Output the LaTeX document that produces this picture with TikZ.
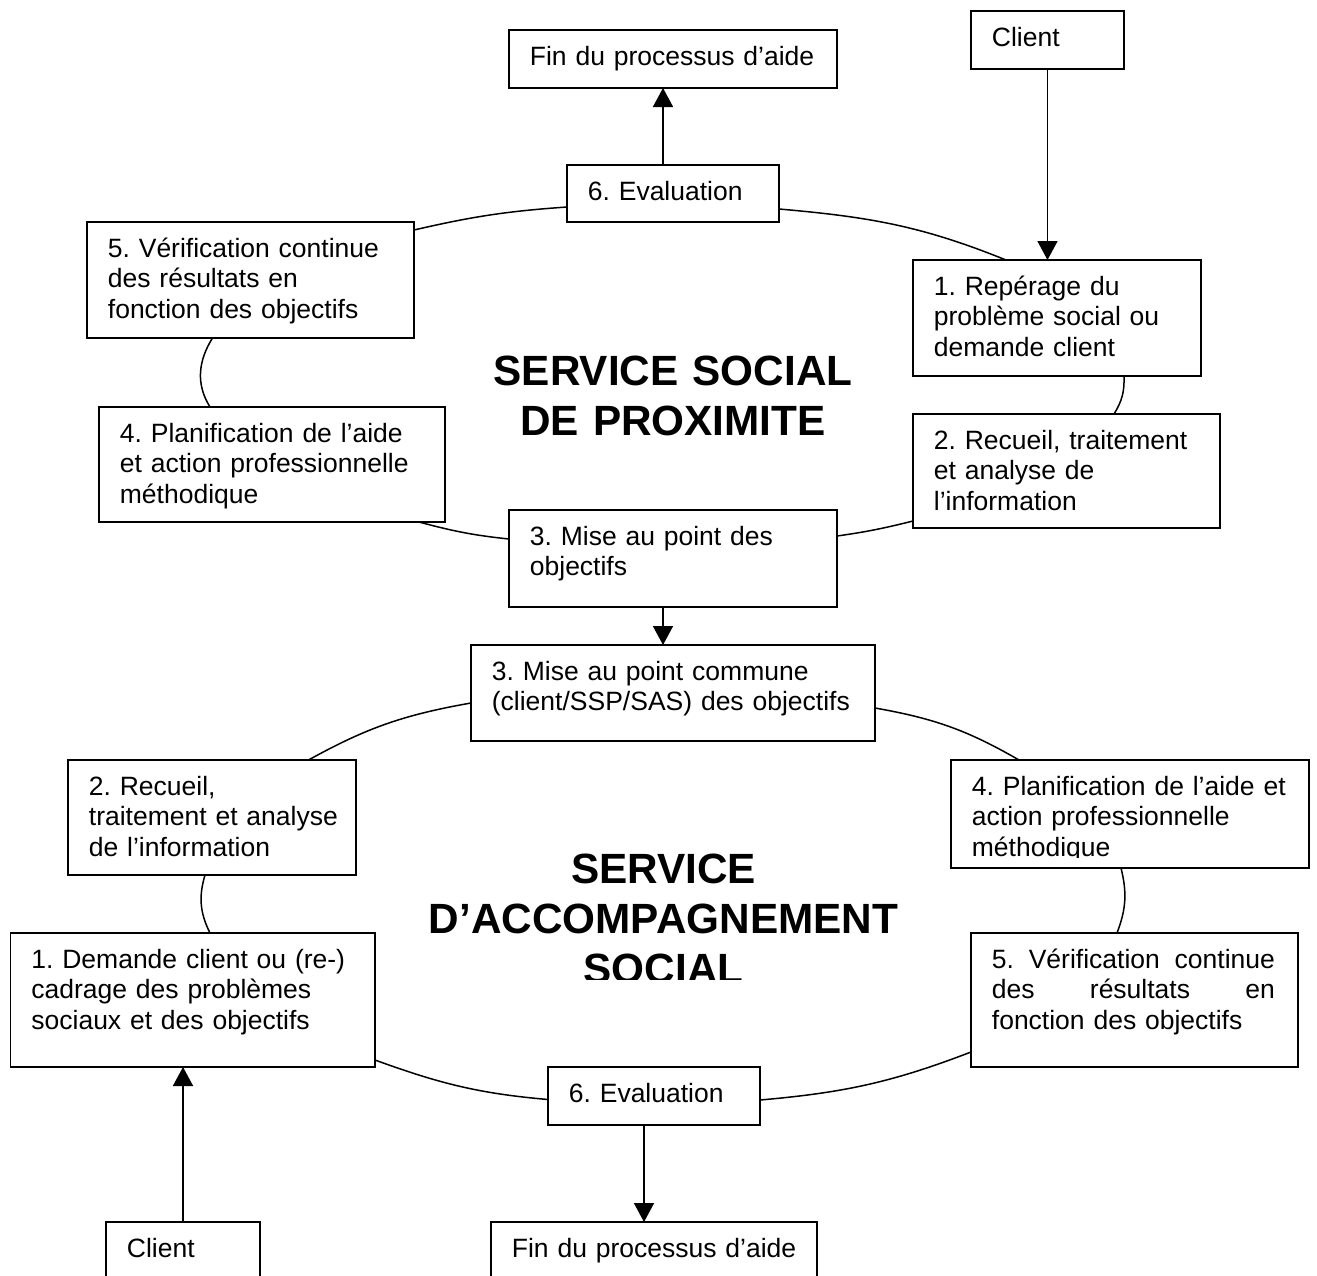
\documentclass[tikz,border=0pt]{standalone}
\usepackage{fontspec}
\setmainfont{Liberation Sans}
\usetikzlibrary{arrows.meta,calc}
\frenchspacing

% one stage of a cycle: a framed box and its text, set at the box's top left
\newcommand\stagebox[6]{%
  \node[stage, minimum width=#4, minimum height=#5] (#1) at (#2,-#3) {};
  \node[stagetext] (#1-t) at ($(#1.north west)+(20.7,-35)$) {#6};}
% a line spread out to a given width
\newcommand\spreadline[2]{\leavevmode\hbox to #1{#2}}

\begin{document}
\begin{tikzpicture}[x=1pt,y=1pt,
  stage/.style={draw, line width=1.8pt, anchor=north west, inner sep=0pt, outer sep=0pt},
  stagetext/.style={anchor=base west, inner sep=0pt, text width=420pt, align=left,
    font=\fontsize{26.5pt}{30.5pt}\selectfont},
  title/.style={anchor=base, inner sep=0pt, text width=700pt, align=center,
    font=\fontsize{42.3pt}{50pt}\selectfont\bfseries},
  link/.style={line width=1.5pt},
  arr/.style={line width=1.6pt, -{Triangle[width=20pt,length=19pt]}}]

\useasboundingbox (0,0) rectangle (1317,-1275);
\fill[white] (0,0) rectangle (1317,-1275);
\clip (0,0) rectangle (1317,-1275);

% ---------- Service social de proximité ----------
\stagebox{fint}{509}{30}{328}{58}{Fin du processus d’aide}
\stagebox{clientt}{971}{11}{153}{58}{Client}
\stagebox{evalt}{567}{165}{212}{57}{6. Evaluation}
\stagebox{b5t}{87}{222}{327}{116}{5. Vérification continue\\des résultats en\\fonction des objectifs}
\stagebox{b1t}{913}{260}{288}{116}{1. Repérage du\\problème social ou\\demande client}
\stagebox{b4t}{99}{407}{346}{115}{4. Planification de l’aide\\et action professionnelle\\méthodique}
\stagebox{b2t}{913}{414}{307}{114}{2. Recueil, traitement\\et analyse de\\l’information}
\stagebox{b3t}{509}{510}{328}{97}{3. Mise au point des\\objectifs}

\node[title] (ttop) at (673,-385.7) {SERVICE SOCIAL\\DE PROXIMITE};

\draw[link] ($(evalt.north west)+(0,-42)$) to[out=184,in=13] ($(b5t.north east)+(0,-8)$);
\draw[link] ($(evalt.north east)+(0,-44)$) to[out=-5,in=158] ($(b1t.north west)+(93,0)$);
\draw[link] ($(b5t.south west)+(125.5,0)$) to[out=238,in=122] ($(b4t.north west)+(111,0)$);
\draw[link] ($(b4t.south west)+(320,0)$) to[out=-15,in=174] ($(b3t.north west)+(0,-29)$);
\draw[link] ($(b3t.north east)+(0,-26)$) to[out=8,in=194] ($(b2t.north west)+(0,-107)$);
\draw[link] ($(b1t.south west)+(211,0)$) to[out=272,in=58] ($(b2t.north west)+(201,0)$);

\draw[arr] ($(evalt.north)+(-10,0)$) -- ($(fint.south)+(-10,0)$);
\draw[arr] (clientt.south) -- (clientt.south |- b1t.north);

% ---------- Service d'accompagnement social ----------
\stagebox{comm}{471}{645}{404}{96}{3. Mise au point commune\\(client/SSP/SAS) des objectifs}
\stagebox{b2b}{68}{760}{288}{115}{2. Recueil,\\traitement et analyse\\de l’information}
\stagebox{b1b}{10.5}{933}{364.5}{134}{1. Demande client ou (re-)\\cadrage des problèmes\\sociaux et des objectifs}
\stagebox{b5b}{971}{933}{327}{134}{\spreadline{283pt}{5.\hfill Vérification\hfill continue}\\
  \spreadline{283pt}{des\hfill résultats\hfill en}\\fonction des objectifs}
\stagebox{evalb}{548}{1067}{212}{58}{6. Evaluation}
\stagebox{clientb}{106}{1222}{154}{80}{Client}
\stagebox{finb}{491}{1222}{326}{80}{Fin du processus d’aide}

\draw[arr] ($(b3t.south)+(-10,0)$) -- ($(comm.north)+(-10,0)$);

% box whose last line is cut off at the bottom
\node[stage, minimum width=358, minimum height=108] (b4b) at (951,-760) {};
\begin{scope}
  \clip (951,-760) rectangle (1309,-857);
  \node[stagetext] (b4b-t) at ($(b4b.north west)+(20.7,-35)$)
    {4. Planification de l’aide et\\action professionnelle\\méthodique};
\end{scope}

% title whose last line is cut off at the bottom
\begin{scope}
  \clip (300,-800) rectangle (1030,-979.3);
  \node[title] (tbot) at (663.5,-883) {SERVICE\\D’ACCOMPAGNEMENT\\SOCIAL};
\end{scope}

\draw[link] ($(comm.north west)+(0,-58)$) to[out=190,in=29] ($(b2b.north west)+(240.5,0)$);
\draw[link] ($(b2b.south west)+(137,0)$) to[out=253.5,in=116.5] ($(b1b.north west)+(199.5,0)$);
\draw[link] ($(b1b.north east)+(0,-127)$) to[out=-20,in=175] ($(evalb.north west)+(0,-32.5)$);
\draw[link] ($(evalb.north east)+(0,-33)$) to[out=5,in=201] ($(b5b.north west)+(0,-119)$);
\draw[link] ($(comm.north east)+(0,-63)$) to[out=-10,in=150] ($(b4b.north west)+(68,0)$);
\draw[link] ($(b4b.south west)+(170,0)$) to[out=284,in=69] ($(b5b.north west)+(146,0)$);

\draw[arr] ($(evalb.south)+(-10,0)$) -- ($(finb.north)+(-10,0)$);
\draw[arr] (clientb.north) -- (clientb.north |- b1b.south);
\end{tikzpicture}
\end{document}
